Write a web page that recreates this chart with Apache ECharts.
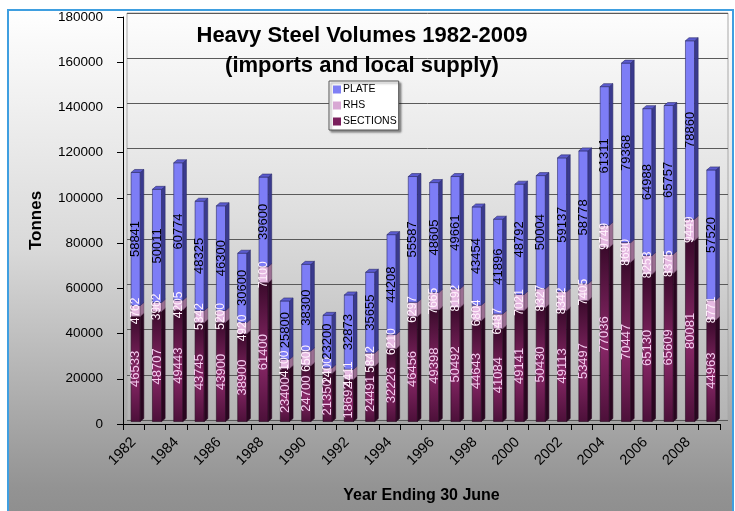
<!DOCTYPE html>
<html>
<head>
<meta charset="utf-8">
<script src="https://cdn.jsdelivr.net/npm/echarts@6/dist/echarts.min.js"></script>
<style>
html,body{margin:0;padding:0;background:#fff;}
#chart{width:735px;height:511px;}
</style>
</head>
<body>
<div id="chart"></div>
<script>
var years = ['1982','1983','1984','1985','1986','1987','1988','1989','1990','1991','1992','1993','1994','1995','1996','1997','1998','1999','2000','2001','2002','2003','2004','2005','2006','2007','2008','2009'];
var sections = [46533,48707,49443,43745,43900,38900,61400,23400,24700,21350,18692,24491,32226,46456,49398,50492,44643,41084,49141,50430,49113,53497,77036,70447,65130,65609,80081,44963];
var rhs = [4762,3962,4205,5342,5200,4920,7100,4100,6500,2400,4411,5842,6210,6297,7665,8192,6804,6487,7021,8327,8342,7405,9749,8690,8253,8375,9449,8771];
var plate = [58841,50011,60774,48325,46300,30600,39600,25800,38300,23200,32873,35655,44208,55587,48605,49661,43454,41896,48792,50004,59137,58778,61311,79368,64988,65757,78860,57520];
var yTicks = [0,20000,40000,60000,80000,100000,120000,140000,160000,180000];

var FONT = '"Liberation Sans", Arial, sans-serif';

function buildData(vals, bases) {
  return vals.map(function (v, i) { return [i, bases[i], v]; });
}
var zeroBase = sections.map(function () { return 0; });
var rhsBase = sections.slice();
var plateBase = sections.map(function (s, i) { return s + rhs[i]; });

function makeRender(style) {
  return function (params, api) {
    var i = api.value(0), base = api.value(1), val = api.value(2);
    var p0 = api.coord([i, base]);
    var p1 = api.coord([i, base + val]);
    var bw = api.size([1, 0])[0];
    var cx = p0[0];
    var lift = 2.5;
    var y0 = p0[1] - lift, y1 = p1[1] - lift;
    var fl = cx - 0.12 * bw, fw = 0.43 * bw, dx = 0.165 * bw, dy = 3;
    var fr = fl + fw;
    var children = [
      { type: 'rect', shape: { x: fl, y: y1, width: fw, height: y0 - y1 },
        style: { fill: style.front, stroke: style.stroke, lineWidth: 0.6 } },
      { type: 'polygon', shape: { points: [[fr, y1], [fr + dx, y1 - dy], [fr + dx, y0 - dy], [fr, y0]] },
        style: { fill: style.side, stroke: style.stroke, lineWidth: 0.6 } },
      { type: 'polygon', shape: { points: [[fl, y1], [fl + dx, y1 - dy], [fr + dx, y1 - dy], [fr, y1]] },
        style: { fill: style.top, stroke: style.stroke, lineWidth: 0.6 } },
      { type: 'text', x: fl + fw / 2, y: (y0 + y1) / 2, rotation: Math.PI / 2, z2: 100,
        style: { text: String(val), x: 0, y: 0, fill: style.label, font: style.font,
                 align: 'center', verticalAlign: 'middle', textAlign: 'center', textVerticalAlign: 'middle' } }
    ];
    return { type: 'group', children: children };
  };
}

var sectionsFront = new echarts.graphic.LinearGradient(0, 0, 0, 1, [
  { offset: 0, color: '#3a0a2b' },
  { offset: 0.55, color: '#8a2868' },
  { offset: 1, color: '#4c1039' }
]);

var chart = echarts.init(document.getElementById('chart'), null, { renderer: 'canvas' });
var option = {
  animation: false,
  backgroundColor: '#ffffff',
  textStyle: { fontFamily: FONT },
  graphic: [
    { type: 'rect', z: -20, silent: true,
      shape: { x: 8, y: 10, width: 725, height: 530 },
      style: { fill: new echarts.graphic.LinearGradient(0, 0, 0, 1, [
        { offset: 0, color: '#ffffff' }, { offset: 0.45, color: '#d9d9d9' }, { offset: 0.9, color: '#939393' }, { offset: 1, color: '#8a8a8a' }
      ]), stroke: '#3f9fe0', lineWidth: 2 } },
    { type: 'rect', z: -19, silent: true,
      shape: { x: 127, y: 13, width: 601, height: 407 },
      style: { fill: new echarts.graphic.LinearGradient(0, 0, 0, 1, [
        { offset: 0, color: '#fdfdfd' }, { offset: 0.5, color: '#dedede' }, { offset: 1, color: '#b3b3b3' }
      ]), stroke: '#a8a8a8', lineWidth: 1 } }
  ],
  title: {
    text: 'Heavy Steel Volumes 1982-2009\n(imports and local supply)',
    left: 357, top: 16, textAlign: 'center',
    textStyle: { fontFamily: FONT, fontSize: 22, fontWeight: 'bold', color: '#000', lineHeight: 30 }
  },
  legend: {
    orient: 'vertical', left: 329, top: 81,
    data: ['PLATE', 'RHS', 'SECTIONS'],
    icon: 'rect', itemWidth: 8, itemHeight: 8, itemGap: 5,
    padding: [3, 2, 3, 4],
    backgroundColor: '#ffffff', borderColor: '#555555', borderWidth: 1,
    shadowColor: 'rgba(0,0,0,0.4)', shadowBlur: 2, shadowOffsetX: 2, shadowOffsetY: 2,
    textStyle: { fontFamily: FONT, fontSize: 10.5, color: '#000', padding: [0, 0, 0, -3] }
  },
  grid: [
    { left: 123, right: 15, top: 17, bottom: 87 },
    { left: 127, right: 7, top: 13, bottom: 91 }
  ],
  xAxis: [
    { type: 'category', gridIndex: 0, data: years, boundaryGap: true,
      name: 'Year Ending 30 June', nameLocation: 'middle', nameGap: 64,
      nameTextStyle: { fontFamily: FONT, fontSize: 16, fontWeight: 'bold', color: '#000' },
      axisLine: { lineStyle: { color: '#000', width: 1 } },
      axisTick: { show: true, interval: 0, length: 6, lineStyle: { color: '#000' } },
      axisLabel: { interval: 1, rotate: 45, margin: 16, fontFamily: FONT, fontSize: 14.5, color: '#000' },
      splitLine: { show: false } },
    { type: 'category', gridIndex: 1, data: years, show: false }
  ],
  yAxis: [
    { type: 'value', gridIndex: 0, min: 0, max: 180000, interval: 20000,
      name: 'Tonnes', nameLocation: 'middle', nameGap: 78, nameRotate: 90,
      nameTextStyle: { fontFamily: FONT, fontSize: 17, fontWeight: 'bold', color: '#000' },
      axisLine: { show: true, lineStyle: { color: '#000', width: 1 } },
      axisTick: { show: true, length: 6, lineStyle: { color: '#000' } },
      axisLabel: { margin: 20, fontFamily: FONT, fontSize: 13.5, color: '#000',
        formatter: function (v) { return yTicks.indexOf(v) >= 0 ? String(v) : ''; } },
      splitLine: { show: false } },
    { type: 'value', gridIndex: 1, min: 0, max: 180000, interval: 20000,
      axisLine: { show: false }, axisTick: { show: false }, axisLabel: { show: false },
      splitLine: { show: true, lineStyle: { color: '#5a5a5a', width: 1 } } }
  ],
  series: [
    { name: 'SECTIONS', type: 'custom', xAxisIndex: 0, yAxisIndex: 0,
      itemStyle: { color: '#7a1f5c' },
      encode: { x: 0, y: [1, 2] },
      renderItem: makeRender({ front: sectionsFront, side: '#2a0620', top: '#5a1444', stroke: '#2a0a22',
        label: '#f4cdf0', font: '13px ' + FONT }),
      data: buildData(sections, zeroBase) },
    { name: 'RHS', type: 'custom', xAxisIndex: 0, yAxisIndex: 0,
      itemStyle: { color: '#d8a8d4' },
      encode: { x: 0, y: [1, 2] },
      renderItem: makeRender({ front: '#e6bae2', side: '#9a6e92', top: '#c79ac0', stroke: '#6a4a66',
        label: '#fff2fc', font: '12px ' + FONT }),
      data: buildData(rhs, rhsBase) },
    { name: 'PLATE', type: 'custom', xAxisIndex: 0, yAxisIndex: 0,
      itemStyle: { color: '#7f7ff5' },
      encode: { x: 0, y: [1, 2] },
      renderItem: makeRender({ front: '#7d7df6', side: '#3a3a8e', top: '#5b5bcf', stroke: '#2c2c6a',
        label: '#000000', font: '13px ' + FONT }),
      data: buildData(plate, plateBase) }
  ]
};
chart.setOption(option);
</script>
</body>
</html>
